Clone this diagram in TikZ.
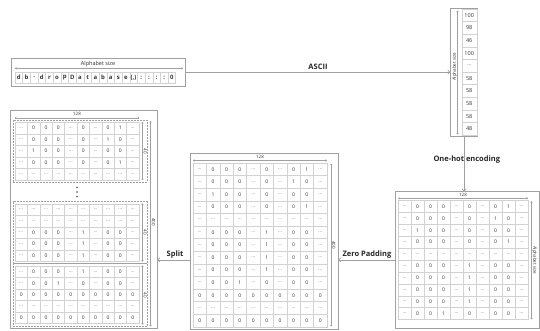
\documentclass[tikz,border=0pt]{standalone}
\usepackage{fontspec}
\setmainfont{Open Sans}
\usetikzlibrary{arrows.meta}
\definecolor{linegray}{HTML}{A0A0A0}
\definecolor{cellgray}{HTML}{D2D2D2}
\definecolor{txt}{HTML}{333333}
\definecolor{dotc}{HTML}{777777}
\tikzset{
 outerbox/.style={draw=linegray, line width=0.6pt, inner sep=0pt},
 chunkbox/.style={draw=linegray, dash pattern=on 2pt off 1pt, line width=0.5pt, inner sep=0pt},
 cellbox/.style={draw=cellgray, line width=0.4pt, inner sep=0pt, text=txt, font=\fontsize{5}{6}\selectfont},
 dimarrow/.style={draw=linegray, line width=0.4pt, {Straight Barb[length=1.2pt,width=2.2pt]}-{Straight Barb[length=1.2pt,width=2.2pt]}},
 dimlabel/.style={font=\fontsize{4.5}{5}\selectfont, text=txt, inner sep=0pt},
 flow/.style={draw=linegray, line width=0.7pt, -{Straight Barb[length=2pt,width=4pt]}},
 flowlabel/.style={font=\bfseries\fontsize{7.5}{9}\selectfont, text=black!85, inner sep=0pt},
}
\def\rwA{x,0,0,0,x,0,x,0,1,x}
\def\rwB{x,0,0,0,x,0,x,1,0,x}
\def\rwC{x,1,0,0,x,0,x,0,0,x}
\def\rwE{x,x,x,x,x,x,x,x,x,x}
\def\rwF{x,0,0,0,x,1,x,0,0,x}
\def\rwG{x,0,0,1,x,0,x,0,0,x}
\def\rwZ{0,0,0,0,0,0,0,0,0,0}
\newcommand\mymat[6]{%
 \foreach \k [count=\ri] in {#6} {
   \edef\rowlist{\csname rw\k\endcsname}
   \foreach \v [count=\ci] in \rowlist {
     \node[cellbox, minimum width=#4pt, minimum height=#5pt] (#1-\ri-\ci) at ({#2+(\ci-0.5)*#4},{#3+(\ri-0.5)*#5}) {\if x\v\textcolor{dotc}{…}\else\v\fi};
   }
 }
}
\begin{document}
\begin{tikzpicture}[x=1pt,y=-1pt]
\useasboundingbox (0,0) rectangle (540,330);
% ---------- alphabet string ----------
\node[outerbox, minimum width=174pt, minimum height=27.7pt] (alpha) at (98,72.2) {};
\node[dimlabel, font=\fontsize{5.5}{6}\selectfont] (alphalab) at (98,64.2) {Alphabet size};
\coordinate (aL) at (15,68.3); \coordinate (aR) at (183,68.3);
\draw[dimarrow] (aL) -- (aR);
\foreach \ch [count=\ci] in {d,b,.,d,r,o,p,D,a,t,a,b,a,s,e,(,),:,:,:,:,0} {
  \node[cellbox, font=\bfseries\fontsize{6}{7}\selectfont, minimum width=7.65pt, minimum height=11.6pt] (a-\ci) at ({15+(\ci-0.5)*7.65},77.5) {\ch};
}
% ---------- ASCII vector ----------
\node[outerbox, minimum width=26.6pt, minimum height=128.4pt] (vec) at (464,72.5) {};
\coordinate (vT) at (457.5,10.5); \coordinate (vB) at (457.5,134.5);
\draw[dimarrow] (vT) -- (vB);
\node[dimlabel, rotate=90] (veclab) at (454.6,67) {Alphabet size};
\foreach \n [count=\ci] in {100,98,46,100,x,58,58,58,58,48} {
  \node[cellbox, font=\fontsize{5.5}{6}\selectfont, minimum width=15pt, minimum height=12.6pt] (v-\ci) at (469.2,{9+(\ci-0.5)*12.6}) {\if x\n\textcolor{dotc}{…}\else\n\fi};
}
% ---------- one-hot matrix (bottom right) ----------
\node[outerbox, minimum width=144.6pt, minimum height=136.3pt] (rbox) at (467.3,259.85) {};
\node[dimlabel] (rlab) at (463,195) {128};
\coordinate (rL) at (398,198.2); \coordinate (rR) at (528,198.2);
\draw[dimarrow] (rL) -- (rR);
\mymat{R}{398}{200.5}{13}{11.9}{A,B,C,A,E,F,F,F,F,G}
\coordinate (rT) at (531.5,201); \coordinate (rB) at (531.5,319.5);
\draw[dimarrow] (rT) -- (rB);
\node[dimlabel, rotate=-90] (rvlab) at (534.6,260) {Alphabet size};
% ---------- padded matrix (middle) ----------
\node[outerbox, minimum width=147.3pt, minimum height=176pt] (mid) at (264.35,241) {};
\node[dimlabel] (mlab) at (260,157) {128};
\coordinate (mL) at (193,160.5); \coordinate (mR) at (327,160.5);
\draw[dimarrow] (mL) -- (mR);
\mymat{M}{193}{163}{13.4}{12.6}{A,B,C,A,E,F,F,F,F,G,Z,E,Z}
\coordinate (mT) at (331,163.5); \coordinate (mB) at (331,326.5);
\draw[dimarrow] (mT) -- (mB);
\node[dimlabel, rotate=-90] (mvlab) at (333.8,245) {400};
% ---------- split chunks (left) ----------
\node[outerbox, minimum width=147pt, minimum height=218.5pt] (lbox) at (83.5,219.25) {};
\node[dimlabel] (llab) at (77,114) {128};
\coordinate (lL) at (15,117.7); \coordinate (lR) at (139,117.7);
\draw[dimarrow] (lL) -- (lR);
\node[chunkbox, minimum width=134pt, minimum height=62pt] (c1) at (80,151) {};
\node[chunkbox, minimum width=134pt, minimum height=62pt] (c2) at (80,232.5) {};
\node[chunkbox, minimum width=134pt, minimum height=63pt] (c3) at (80,295) {};
\mymat{L1}{15}{122.25}{12.4}{11.5}{A,B,C,A,E}
\mymat{L2}{15}{203.75}{12.4}{11.5}{E,E,F,F,F}
\mymat{L3}{15}{266}{12.4}{11.5}{F,G,Z,E,Z}
\foreach \c in {c1,c2,c3} {
  \coordinate (\c T) at ([yshift=-2pt]\c.north -| 142.5,0);
  \coordinate (\c B) at ([yshift=2pt]\c.south -| 142.5,0);
  \draw[dimarrow] (\c T) -- (\c B);
  \node[dimlabel, rotate=-90] (\c lab) at (\c.east -| 145.2,0) {40};
}
\foreach \yy [count=\i] in {187.5,192,196.5} {
  \fill[black!70] (77,\yy) circle (0.9pt);
}
\coordinate (lT) at (150.5,121); \coordinate (lB) at (150.5,326.5);
\draw[dimarrow] (lT) -- (lB);
\node[dimlabel, rotate=-90] (lvlab) at (153.4,222) {400};
% ---------- flow arrows ----------
\draw[flow] (alpha.east) -- (alpha.east -| vec.west);
\node[flowlabel] (ascii) at (318,66.5) {ASCII};
\draw[flow] (vec.south) -- (vec.south |- rbox.north);
\node[flowlabel] (onehot) at (466.8,160) {One-hot encoding};
\draw[flow] (rbox.west) -- (rbox.west -| mid.east);
\node[flowlabel] (zeropad) at (367,255) {Zero Padding};
\coordinate (splitstart) at (rbox.west -| mid.west);
\draw[flow] (splitstart) -- (splitstart -| lbox.east);
\node[flowlabel] (split) at (175,255) {Split};
\end{tikzpicture}
\end{document}
